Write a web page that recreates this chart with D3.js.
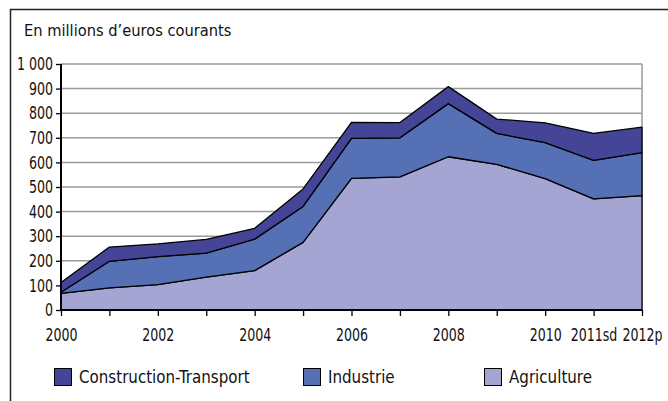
<!DOCTYPE html>
<html>
<head>
<meta charset="utf-8">
<script src="https://cdn.jsdelivr.net/npm/d3@7"></script>
<style>
  body { margin: 0; background: #fff; }
  svg text { font-family: "DejaVu Sans Condensed", "Liberation Sans Narrow", sans-serif; fill: #111; }
</style>
</head>
<body>
<svg width="668" height="401"></svg>
<script>
// values, millions of euros
const years = ['2000', '2001', '2002', '2003', '2004', '2005', '2006', '2007', '2008', '2009', '2010', '2011sd', '2012p'];
const tickLabels = ['2000', '', '2002', '', '2004', '', '2006', '', '2008', '', '2010', '2011sd', '2012p'];
const agriculture = [68, 90, 103, 134, 160, 275, 535, 541, 623, 592, 534, 452, 465];
const industrie = [4, 108, 114, 97, 128, 146, 163, 159, 216, 126, 146, 156, 175];
const construction = [40, 58, 52, 56, 44, 71, 65, 62, 69, 58, 81, 110, 103];
const yTicks = [0, 100, 200, 300, 400, 500, 600, 700, 800, 900, 1000];

const seriesNames = ['Agriculture', 'Industrie', 'Construction-Transport'];
const colors = {
    'Agriculture': '#a4a5d3',
    'Industrie': '#5570b4',
    'Construction-Transport': '#454597'
};

const table = years.map((y, i) => ({
    idx: i,
    'Agriculture': agriculture[i],
    'Industrie': industrie[i],
    'Construction-Transport': construction[i]
}));

const svg = d3.select('svg');

// frame
svg.append('path')
    .attr('d', 'M10.5,401 V9.5 H668')
    .attr('fill', 'none')
    .attr('stroke', '#222')
    .attr('stroke-width', 1.5);

svg.append('text')
    .attr('x', 24)
    .attr('y', 36)
    .style('font-size', '16.3px')
    .text('En millions d\u2019euros courants');

const x = d3.scaleLinear().domain([0, years.length - 1]).range([61, 642]);
const y = d3.scaleLinear().domain([0, 1000]).range([310, 64]);

// grid
svg.append('g').selectAll('line')
    .data(yTicks.filter(d => d > 0))
    .enter().append('line')
    .attr('x1', x(0)).attr('x2', x(12))
    .attr('y1', d => y(d)).attr('y2', d => y(d))
    .attr('stroke', '#9a9a9a')
    .attr('stroke-width', 1.5);

svg.append('line')
    .attr('x1', x(12)).attr('x2', x(12))
    .attr('y1', y(1000)).attr('y2', y(0))
    .attr('stroke', '#9a9a9a')
    .attr('stroke-width', 1.5);

const stack = d3.stack().keys(seriesNames);
const layers = stack(table);

const area = d3.area()
    .x(d => x(d.data.idx))
    .y0(d => y(d[0]))
    .y1(d => y(d[1]));

svg.append('g').selectAll('path')
    .data(layers)
    .enter().append('path')
    .attr('d', area)
    .attr('fill', d => colors[d.key])
    .attr('stroke', '#000')
    .attr('stroke-width', 1.3)
    .attr('stroke-linejoin', 'round');

// axes - digits in the original font are narrow, so squeeze the labels
const squeeze = 0.8;

const yAxis = d3.axisLeft(y)
    .tickValues(yTicks)
    .tickSize(5)
    .tickPadding(5)
    .tickFormat(d => d >= 1000 ? d3.format(',')(d).replace(',', ' ') : d);

const yAxisG = svg.append('g')
    .attr('transform', `translate(${x(0)},0)`)
    .call(yAxis);
yAxisG.select('.domain').remove();
yAxisG.selectAll('line').attr('stroke', '#000').attr('stroke-width', 1.3);
yAxisG.selectAll('text')
    .style('font-size', '17.5px')
    .attr('fill', '#111')
    .attr('transform', `scale(${squeeze},1)`);

const xAxis = d3.axisBottom(x)
    .tickValues(d3.range(years.length))
    .tickSize(6)
    .tickPadding(13)
    .tickFormat(i => tickLabels[i]);

const xAxisG = svg.append('g')
    .attr('transform', `translate(0,${y(0)})`)
    .call(xAxis);
xAxisG.select('.domain').remove();
xAxisG.selectAll('line').attr('stroke', '#000').attr('stroke-width', 1.3);
xAxisG.selectAll('text')
    .style('font-size', '17.5px')
    .attr('fill', '#111')
    .attr('transform', `scale(${squeeze},1)`);

svg.append('line')
    .attr('x1', x(0)).attr('x2', x(12))
    .attr('y1', y(0)).attr('y2', y(0))
    .attr('stroke', '#000').attr('stroke-width', 2);
svg.append('line')
    .attr('x1', x(0)).attr('x2', x(0))
    .attr('y1', y(1000)).attr('y2', y(0))
    .attr('stroke', '#000').attr('stroke-width', 2);

// legend
const legendItems = [
    {name: 'Construction-Transport', x: 54},
    {name: 'Industrie', x: 303},
    {name: 'Agriculture', x: 484}
];

const legend = svg.append('g').selectAll('g')
    .data(legendItems)
    .enter().append('g')
    .attr('transform', d => `translate(${d.x},368)`);

legend.append('rect')
    .attr('x', 0.5).attr('y', 0.5)
    .attr('width', 17).attr('height', 17)
    .attr('fill', d => colors[d.name])
    .attr('stroke', '#000')
    .attr('stroke-width', 1);

legend.append('text')
    .attr('x', 25)
    .attr('y', 15)
    .style('font-size', '16.8px')
    .text(d => d.name);
</script>
</body>
</html>
